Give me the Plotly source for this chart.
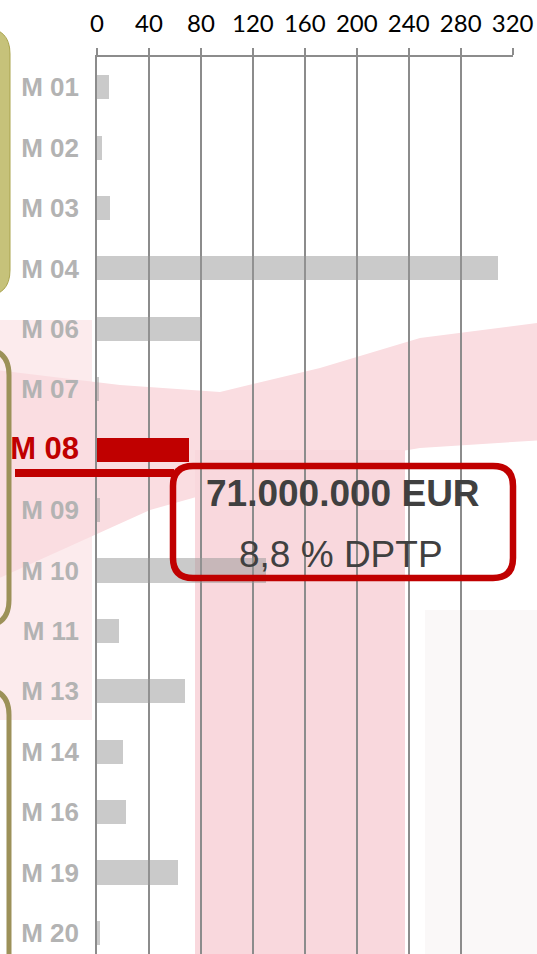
import plotly.graph_objects as go

# ---------------- data ----------------
categories = ["M 01", "M 02", "M 03", "M 04", "M 06", "M 07", "M 08", "M 09",
              "M 10", "M 11", "M 13", "M 14", "M 16", "M 19", "M 20"]
values = [9, 4, 10, 309, 80, 1.5, 71, 2, 130, 17, 68, 20, 22, 62, 2]
highlight = "M 08"
x_ticks = [0, 40, 80, 120, 160, 200, 240, 280, 320]
callout_amount = "71.000.000 EUR"
callout_share = "8,8 % DPTP"

# ---------------- geometry helpers (pixels -> paper) ----------------
W, H = 537, 954
ML, MR, MT, MB = 97, 24, 57, 0
PW, PH = W - ML - MR, H - MT - MB


def px(x):
    return (x - ML) / PW


def py(y):
    return 1 - (y - MT) / PH


def pt(x, y):
    return f"{px(x):.5f},{py(y):.5f}"


def rrect(x0, y0, x1, y1, r):
    return (f"M {pt(x0 + r, y0)} L {pt(x1 - r, y0)} Q {pt(x1, y0)} {pt(x1, y0 + r)} "
            f"L {pt(x1, y1 - r)} Q {pt(x1, y1)} {pt(x1 - r, y1)} "
            f"L {pt(x0 + r, y1)} Q {pt(x0, y1)} {pt(x0, y1 - r)} "
            f"L {pt(x0, y0 + r)} Q {pt(x0, y0)} {pt(x0 + r, y0)} Z")


def poly(points):
    return "M " + " L ".join(pt(x, y) for x, y in points) + " Z"


# ---------------- traces ----------------
gray_vals = [v if c != highlight else None for c, v in zip(categories, values)]
red_vals = [v if c == highlight else None for c, v in zip(categories, values)]

fig = go.Figure()
fig.add_trace(go.Bar(y=categories, x=gray_vals, orientation="h", width=0.4,
                     marker=dict(color="rgba(150,150,150,0.5)", line=dict(width=0)),
                     showlegend=False, hoverinfo="skip"))
fig.add_trace(go.Bar(y=categories, x=red_vals, orientation="h", width=0.4,
                     marker=dict(color="#c00000", line=dict(width=0)),
                     showlegend=False, hoverinfo="skip"))

ticktext = [
    f"<span style='color:#c00000;font-size:31px'>{c}</span>" if c == highlight else c
    for c in categories
]

shapes = []
# faded background watermark
shapes.append(dict(type="path", xref="paper", yref="paper", layer="below",
                   path=poly([(-5, 320), (92, 320), (92, 720), (-5, 720)]),
                   fillcolor="#fcebed", line=dict(width=0)))
shapes.append(dict(type="path", xref="paper", yref="paper", layer="below",
                   path=poly([(-5, 370), (120, 385), (220, 392), (320, 368), (420, 338),
                              (545, 322), (545, 440), (420, 448), (300, 468), (150, 510),
                              (-5, 580)]),
                   fillcolor="#fadde1", line=dict(width=0)))
shapes.append(dict(type="path", xref="paper", yref="paper", layer="below",
                   path=poly([(195, 450), (405, 450), (405, 960), (195, 960)]),
                   fillcolor="#f9d8dd", line=dict(width=0)))
shapes.append(dict(type="path", xref="paper", yref="paper", layer="below",
                   path=poly([(425, 610), (545, 610), (545, 960), (425, 960)]),
                   fillcolor="#faf8f8", line=dict(width=0)))

# left group decorations
shapes.append(dict(type="path", xref="paper", yref="paper", layer="above",
                   path=rrect(-70, 28, 10, 296, 26),
                   fillcolor="#c6c27a", line=dict(color="#a9a34c", width=1)))
shapes.append(dict(type="path", xref="paper", yref="paper", layer="above",
                   path=rrect(-70, 349, 9, 626, 26),
                   line=dict(color="#9c9159", width=5)))
shapes.append(dict(type="path", xref="paper", yref="paper", layer="above",
                   path=rrect(-70, 689, 9, 1060, 26),
                   line=dict(color="#9c9159", width=5)))

# highlight underline and callout box
shapes.append(dict(type="line", xref="paper", yref="paper", layer="above",
                   x0=px(15), x1=px(174), y0=py(473), y1=py(473),
                   line=dict(color="#c00000", width=8)))
shapes.append(dict(type="path", xref="paper", yref="paper", layer="above",
                   path=rrect(173, 466, 513, 578, 20),
                   line=dict(color="#c00000", width=6.5)))

annotations = [
    dict(xref="paper", yref="paper", x=px(343), y=py(493), xanchor="center", yanchor="middle",
         text=f"<b>{callout_amount}</b>", showarrow=False,
         font=dict(family="Liberation Sans, Arial", size=37, color="#404040")),
    dict(xref="paper", yref="paper", x=px(341), y=py(554), xanchor="center", yanchor="middle",
         text=callout_share, showarrow=False,
         font=dict(family="Liberation Sans, Arial", size=37, color="#404040")),
]

fig.update_layout(
    width=W, height=H, autosize=False,
    margin=dict(l=ML, r=MR, t=MT, b=MB, pad=0),
    paper_bgcolor="white", plot_bgcolor="rgba(0,0,0,0)",
    barmode="overlay", bargap=0,
    shapes=shapes, annotations=annotations,
    xaxis=dict(side="top", range=[0, 320.3], tickvals=x_ticks,
               ticktext=[str(t) for t in x_ticks],
               showgrid=True, gridcolor="#8c8c8c", gridwidth=1.5,
               showline=True, linecolor="#8c8c8c", linewidth=2,
               ticks="outside", ticklen=7, tickwidth=1.5, tickcolor="#8c8c8c",
               ticklabelstandoff=6, zeroline=False,
               tickfont=dict(family="Lato", size=24, color="black")),
    yaxis=dict(range=[14.35, -0.5], autorange=False, tickvals=categories, ticktext=ticktext,
               showgrid=False, zeroline=False, showline=True, linecolor="#8c8c8c", linewidth=1.5,
               ticks="", ticklabelstandoff=11,
               tickfont=dict(family="Liberation Sans, Arial", size=26, color="#b3b3b3",
                             weight="bold")),
)

fig.write_html("out.html", config={"displayModeBar": False},
               post_script="document.body.style.margin='0px';")
